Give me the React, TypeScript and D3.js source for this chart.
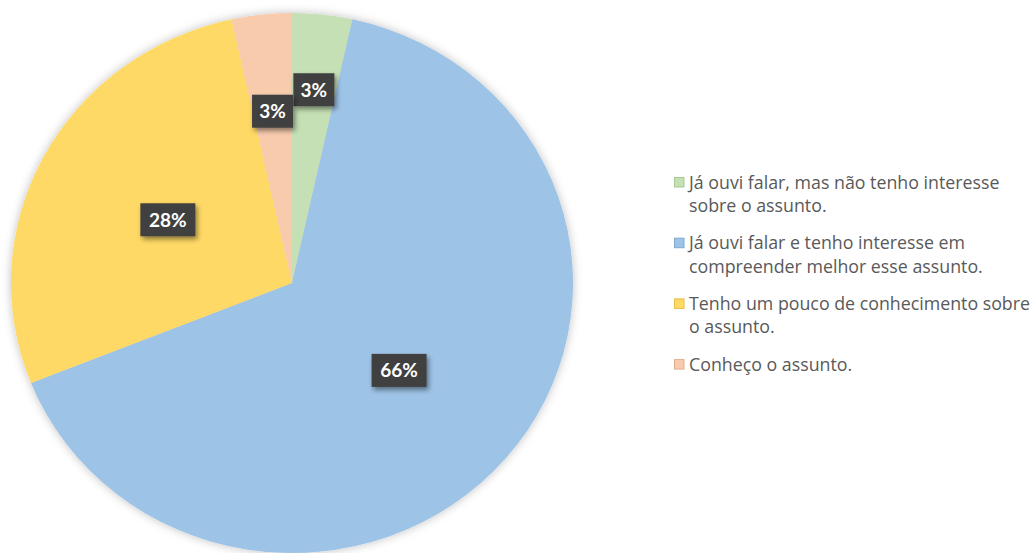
import React from "react";
import * as d3 from "d3";

const legendLines = [
  ["Já ouvi falar, mas não tenho interesse", "sobre o assunto."],
  ["Já ouvi falar e tenho interesse em", "compreender melhor esse assunto."],
  ["Tenho um pouco de conhecimento sobre", "o assunto."],
  ["Conheço o assunto."],
];
const counts = [2, 38, 16, 2];
const colors = ["#C5E0B4", "#9DC3E6", "#FFD966", "#F8CBAD"];
const legendBorders = ["#A9C996", "#7FA9D1", "#E6BE45", "#E0AE8E"];
const labelRadiusFrac = [0.72, 0.5, 0.5, 0.64];

const W = 1035;
const H = 553;
const cx = 292;
const cy = 283;
const rx = 281;
const ry = 270;

export default function App() {
  const total = d3.sum(counts);
  const pie = d3
    .pie<number>()
    .sort(null)
    .value((d) => d)
    .startAngle(0)
    .endAngle(2 * Math.PI);
  const arcs = pie(counts);
  const arc = d3.arc<d3.PieArcDatum<number>>().innerRadius(0).outerRadius(rx);
  const fmt = d3.format(".0%");
  const labelFont = "Lato, 'Open Sans', sans-serif";
  const legendFont = "'Open Sans', sans-serif";

  return (
    <svg
      width={W}
      height={H}
      style={{ position: "absolute", left: 0, top: 0, background: "#fff" }}
    >
      <defs>
        <filter id="pieShadow" x="-10%" y="-10%" width="120%" height="120%">
          <feDropShadow dx="0" dy="0" stdDeviation="5" floodColor="#000" floodOpacity="0.25" />
        </filter>
        <filter id="lblShadow" x="-30%" y="-30%" width="160%" height="160%">
          <feDropShadow dx="2" dy="3" stdDeviation="2.5" floodColor="#000" floodOpacity="0.45" />
        </filter>
      </defs>
      <g transform={`translate(${cx},${cy}) scale(1,${ry / rx})`} filter="url(#pieShadow)">
        {arcs.map((a, i) => (
          <path key={i} d={arc(a) || ""} fill={colors[i]} />
        ))}
      </g>
      {arcs.map((a, i) => {
        const mid = (a.startAngle + a.endAngle) / 2;
        const r = rx * labelRadiusFrac[i];
        const x = cx + r * Math.sin(mid);
        const y = cy - r * Math.cos(mid) * (ry / rx);
        const txt = fmt(a.data / total);
        const w = txt.length === 2 ? 41 : 55;
        const h = 33;
        return (
          <g key={i}>
            <rect
              x={x - w / 2}
              y={y - h / 2}
              width={w}
              height={h}
              fill="#404040"
              filter="url(#lblShadow)"
            />
            <text
              x={x}
              y={y}
              dy="0.36em"
              textAnchor="middle"
              fill="#fff"
              fontFamily={labelFont}
              fontWeight="bold"
              fontSize={19}
            >
              {txt}
            </text>
          </g>
        );
      })}
      <g fontFamily={legendFont} fontSize={17.8} fill="#595959">
        {legendLines.map((lines, i) => {
          const y0 = 188.5 + i * 60.7;
          return (
            <g key={i}>
              <rect
                x={674.5}
                y={y0 - 11}
                width={9.5}
                height={9.5}
                fill={colors[i]}
                stroke={legendBorders[i]}
                strokeWidth={1}
              />
              <text x={689} y={y0}>
                {lines.map((l, j) => (
                  <tspan key={j} x={689} y={y0 + j * 23.4}>
                    {l}
                  </tspan>
                ))}
              </text>
            </g>
          );
        })}
      </g>
    </svg>
  );
}
